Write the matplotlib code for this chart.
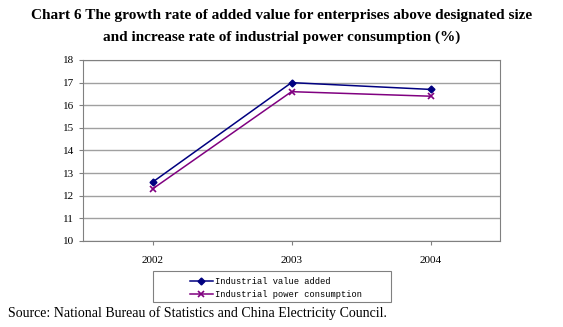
import matplotlib
matplotlib.use('Agg')
import matplotlib.pyplot as plt
from matplotlib.patches import Rectangle

years = ['2002', '2003', '2004']
value_added = [12.6, 17.0, 16.7]
power_use = [12.3, 16.6, 16.4]

W, H = 563, 327
fig = plt.figure(figsize=(W / 100, H / 100), dpi=100)
ax = fig.add_axes([83 / W, 1 - 241 / H, 417 / W, 181 / H])

x = range(len(years))
ax.plot(x, value_added, color='#000080', marker='D', markersize=3.5, lw=1.1,
        label='Industrial value added')
ax.plot(x, power_use, color='#800080', marker='x', markersize=4.5, mew=1.2, lw=1.1,
        label='Industrial power consumption')

ax.set_xlim(-0.5, 2.5)
ax.set_ylim(10, 18)
ax.set_yticks(range(10, 19))
ax.set_xticks(list(x))
ax.set_xticklabels(years)
ax.grid(axis='y', color='#a0a0a0', lw=1)
ax.set_axisbelow(True)
for s in ax.spines.values():
    s.set_color('#808080')
ax.tick_params(axis='both', labelsize=8, color='#808080', length=3)
ax.tick_params(axis='x', pad=8)
for lbl in ax.get_xticklabels() + ax.get_yticklabels():
    lbl.set_family('Liberation Serif')

# legend: box drawn by hand, entries without frame
fig.patches.append(Rectangle((153 / W, 1 - 302 / H), 238 / W, 31 / H,
                             transform=fig.transFigure, fill=False,
                             edgecolor='#808080', lw=0.8))
leg = ax.legend(loc='center left', bbox_to_anchor=(190 / W, 1 - 288 / H),
                bbox_transform=fig.transFigure, frameon=False,
                prop={'family': 'Liberation Mono', 'size': 6.3},
                handlelength=2.6, borderpad=0, labelspacing=0.55,
                handletextpad=0.25, borderaxespad=0)

fig.text(0.5, 1 - 16 / H, 'Chart 6 The growth rate of added value for enterprises above designated size',
         ha='center', va='center', fontsize=11, fontweight='bold', family='Liberation Serif')
fig.text(0.5, 1 - 37 / H, 'and increase rate of industrial power consumption (%)',
         ha='center', va='center', fontsize=11, fontweight='bold', family='Liberation Serif')
fig.text(8 / W, 1 - 313 / H, 'Source: National Bureau of Statistics and China Electricity Council.',
         ha='left', va='center', fontsize=10, family='Liberation Serif')

fig.savefig('out.png', dpi=100)
